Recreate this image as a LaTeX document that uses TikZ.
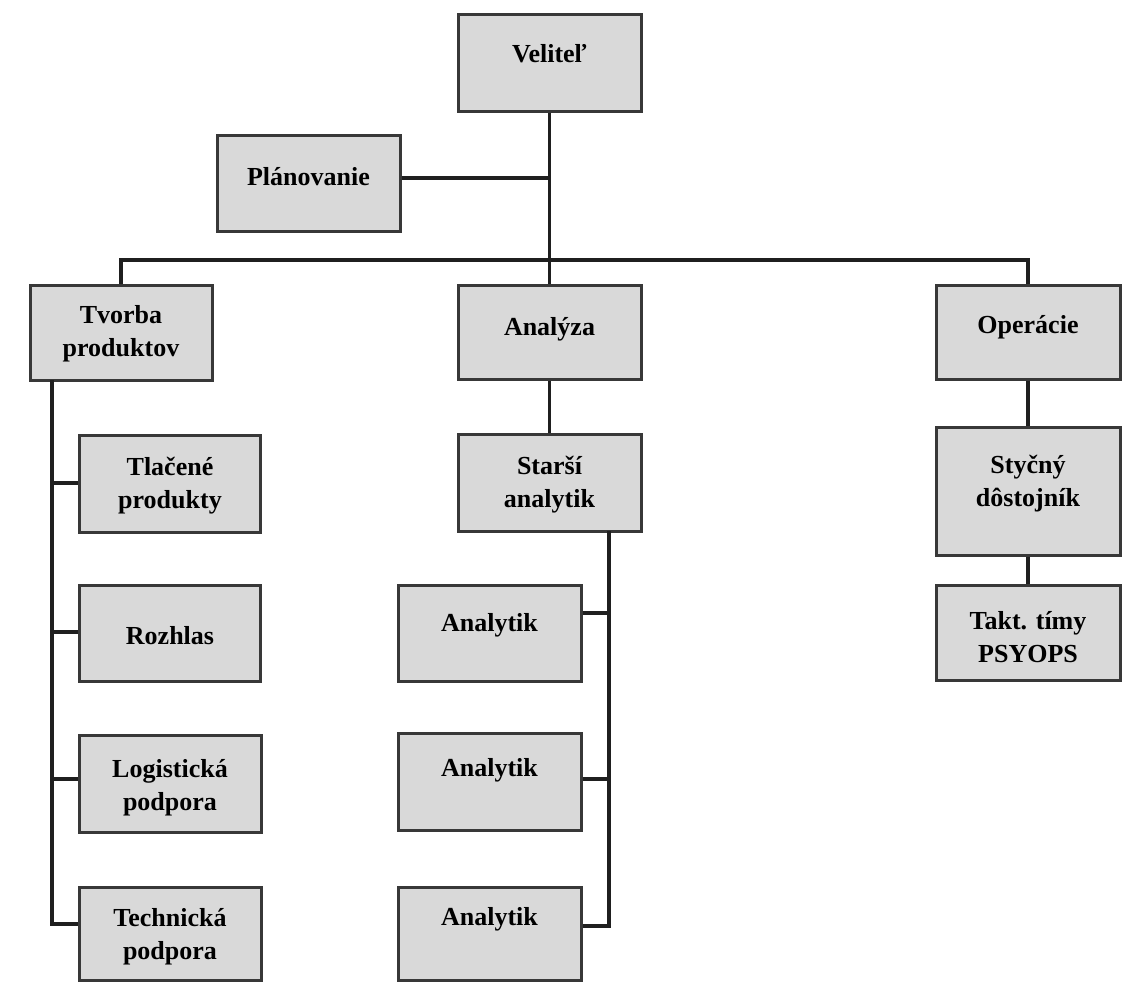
\documentclass[tikz,border=0pt]{standalone}
\usepackage{fontspec}
\setmainfont{Liberation Serif}
\usetikzlibrary{fit}

\tikzset{
  x=1pt, y=-1pt,
  box/.style={draw=black!78, fill=black!15, line width=3pt, inner sep=0pt, rectangle},
  lbl/.style={font=\bfseries\fontsize{26}{33}\selectfont, align=center, inner sep=0pt, text=black},
  link/.style={draw=black!88, line width=3.5pt, line join=miter},
}

\begin{document}
\begin{tikzpicture}
  \useasboundingbox[fill=white] (0,0) rectangle (1122,983);

  % boxes
  \node[box, fit={(458,14) (641,111)}]    (vel) {};
  \node[box, fit={(217,135) (400,231)}]   (plan) {};
  \node[box, fit={(30,285) (212,380)}]    (tvo) {};
  \node[box, fit={(458,285) (641,379)}]   (ana) {};
  \node[box, fit={(936,285) (1120,379)}]  (ope) {};
  \node[box, fit={(458,434) (641,531)}]   (sta) {};
  \node[box, fit={(936,427) (1120,555)}]  (sty) {};
  \node[box, fit={(936,585) (1120,680)}]  (tak) {};
  \node[box, fit={(79,435) (260,532)}]    (tla) {};
  \node[box, fit={(79,585) (260,681)}]    (roz) {};
  \node[box, fit={(79,735) (261,832)}]    (log) {};
  \node[box, fit={(79,887) (261,980)}]    (tec) {};
  \node[box, fit={(398,585) (581,681)}]   (an1) {};
  \node[box, fit={(398,733) (581,830)}]   (an2) {};
  \node[box, fit={(398,887) (581,980)}]   (an3) {};

  % labels
  \node[lbl] (velT)  at (549.5,54)  {Veliteľ};
  \node[lbl] (planT) at (308.5,177) {Plánovanie};
  \node[lbl] (tvoT)  at (121,334)   {Tvorba\\produktov};
  \node[lbl] (anaT)  at (549.5,329) {Analýza};
  \node[lbl] (opeT)  at (1028,327)  {Operácie};
  \node[lbl] (staT)  at (549.5,485) {Starší\\analytik};
  \node[lbl] (styT)  at (1028,484)  {Styčný\\dôstojník};
  \node[lbl] (takT)  at (1028,637)  {Takt. tímy\\PSYOPS};
  \node[lbl] (tlaT)  at (170,486)   {Tlačené\\produkty};
  \node[lbl] (rozT)  at (170,636)   {Rozhlas};
  \node[lbl] (logT)  at (170,788)   {Logistická\\podpora};
  \node[lbl] (tecT)  at (170,937)   {Technická\\podpora};
  \node[lbl] (an1T)  at (489.5,625) {Analytik};
  \node[lbl] (an2T)  at (489.5,770) {Analytik};
  \node[lbl] (an3T)  at (489.5,919) {Analytik};

  % junction points
  \coordinate (busM) at (549.5,260);
  \coordinate (planJ) at (549.5,178);
  \coordinate (tvoS) at (52,380);
  \coordinate (tvoE) at (52,924);
  \coordinate (staS) at (609,531);
  \coordinate (staE) at (609,926);

  % command chain
  \draw[link] (vel.south) -- (busM);
  \draw[link] (plan.east |- planJ) -- (planJ);
  \draw[link] (tvo.north -| 121,0) |- (busM) -| (ope.north);
  \draw[link] (busM) -- (ana.north);
  \draw[link] (ana.south) -- (sta.north);
  \draw[link] (ope.south) -- (sty.north);
  \draw[link] (sty.south) -- (tak.north);

  % product branch
  \draw[link] (tvoS) |- (tec.west |- tvoE);
  \draw[link] (tla.west |- 0,483) -- (tvoS |- 0,483);
  \draw[link] (roz.west |- 0,632) -- (tvoS |- 0,632);
  \draw[link] (log.west |- 0,779) -- (tvoS |- 0,779);

  % analysis branch
  \draw[link] (staS) |- (an3.east |- staE);
  \draw[link] (an1.east |- 0,613) -- (staS |- 0,613);
  \draw[link] (an2.east |- 0,779) -- (staS |- 0,779);
\end{tikzpicture}
\end{document}
